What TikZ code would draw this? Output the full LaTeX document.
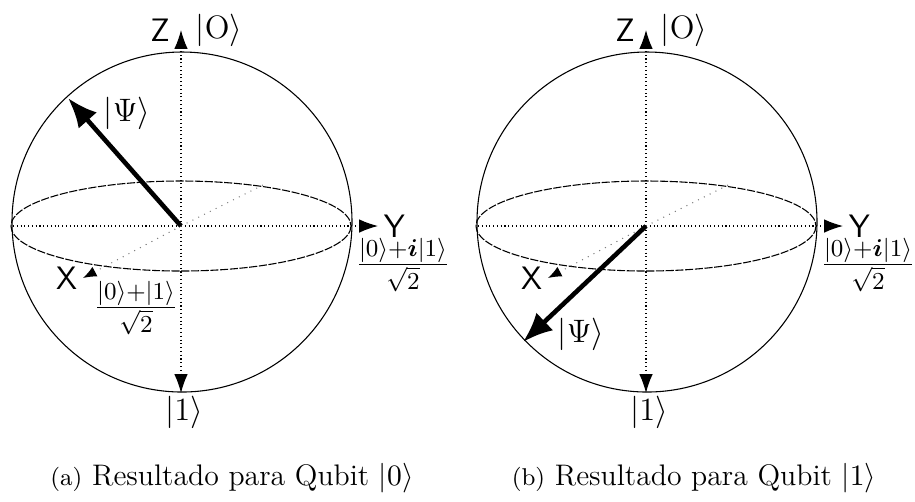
\documentclass[tikz,border=0pt]{standalone}
\usepackage{amsmath}
\usetikzlibrary{arrows.meta,positioning}

\begin{document}
\begin{tikzpicture}[>=Latex,x=0.37pt,y=-0.37pt]
  \tikzstyle{axis}=[densely dotted,thin,->,>={Latex[length=7pt,width=5pt]}]
  \tikzstyle{psi}=[line width=1.7pt,->,>={Latex[length=11pt,width=9pt]}]
  \tikzstyle{lbl}=[font=\sffamily\large,inner sep=1pt]
  \tikzstyle{frac}=[inner sep=0pt,font=\fontsize{13.5}{16}\selectfont]
  \useasboundingbox (0,0) rectangle (915,501);
  \foreach \ox/\nm in {0/a,465/b}{
    \begin{scope}[xshift=\ox*0.37pt]
      \coordinate (c\nm) at (181,226);
      \draw[thin] (182,222) circle[radius=170];
      \draw[thin,dashed,dash pattern=on 3pt off 0.6pt] (c\nm) ellipse[x radius=170,y radius=45];
      % axes
      \coordinate (zt\nm) at (181,30);
      \coordinate (zb\nm) at (181,393);
      \coordinate (yt\nm) at (378,226);
      \coordinate (xt\nm) at (83,278);
      \coordinate (xb\nm) at (263,185);
      \draw[axis] (c\nm) -- (zt\nm);
      \draw[axis] (c\nm) -- (zb\nm);
      \draw[densely dotted,thin] (13,226) -- (c\nm);
      \draw[axis] (c\nm) -- (yt\nm);
      \draw[dotted,thin,gray] (xb\nm) -- (c\nm);
      \draw[dotted,thin,gray,-{Latex[length=5pt,width=4pt,black]}] (c\nm) -- (xt\nm);
      \node[lbl,left=3pt of zt\nm] (z\nm) {Z};
      \node[right=2pt of zt\nm,font=\large] (k0\nm) {$|\mathrm{O}\rangle$};
      \node[lbl,right=1pt of yt\nm] (y\nm) {Y};
      \node[lbl,left=1pt of xt\nm] (x\nm) {X};
      \node[below right=1pt and -6pt of zb\nm,inner sep=0pt,font=\large] (k1\nm) {$|1\rangle$};
      \node[frac] (fy\nm) at (403,265) {$\frac{|0\rangle+\boldsymbol{i}|1\rangle}{\sqrt{2}}$};
    \end{scope}
  }
  % left sphere: Qubit |0>
  \node[frac] (fxa) at (136,308) {$\frac{|0\rangle+|1\rangle}{\sqrt{2}}$};
  \coordinate (pa) at (68,98);
  \draw[psi] (ca) -- (pa);
  \node[font=\large] (psia) at (127,113) {$|\Psi\rangle$};
  % right sphere: Qubit |1>
  \coordinate (pb) at (523,342);
  \draw[psi] (cb) -- (pb);
  \node[font=\large] (psib) at (581,334) {$|\Psi\rangle$};
  % captions
  \tikzstyle{subcap}=[font=\fontsize{11}{13}\selectfont]
  \node[subcap] (capa) at (232,478) {{\small(a)} Resultado para Qubit $|0\rangle$};
  \node[subcap] (capb) at (694,478) {{\small(b)} Resultado para Qubit $|1\rangle$};
\end{tikzpicture}
\end{document}
